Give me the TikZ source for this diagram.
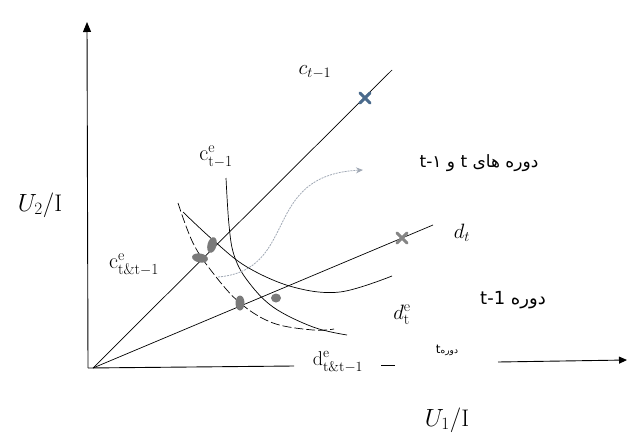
\documentclass[tikz,border=0pt]{standalone}
\usepackage{fontspec}
\usepackage{amsmath}
\usetikzlibrary{arrows.meta,shapes.geometric,calc}
\TeXXeTstate=1
\newfontfamily\arabicfont[Script=Arabic]{DejaVu Sans}
\definecolor{markblue}{HTML}{4A6A8C}
\definecolor{markgray}{HTML}{858585}
\definecolor{blobgray}{HTML}{7A7A7A}
\definecolor{arrowgray}{HTML}{A0A8B4}
\tikzset{
  axisline/.style={line width=0.9pt,black},
  rayline/.style={line width=0.7pt,black},
  curveline/.style={line width=0.7pt,black},
  dashcurve/.style={line width=0.7pt,black,dash pattern=on 9pt off 3pt},
  blob/.style={draw=none,fill=blobgray,ellipse,inner sep=0pt},
  lbl/.style={inner sep=0pt,font=\fontsize{22}{24}\selectfont},
  plbl/.style={inner sep=0pt,font=\fontsize{17}{19}\selectfont},
  crossmark/.style={line width=3pt,line cap=round}
}
\begin{document}
\begin{tikzpicture}[x=1pt,y=-1pt]
\useasboundingbox (0,0) rectangle (627,434);
% axes
\coordinate (O) at (88,368);
\coordinate (Ytop) at (87,22);
\coordinate (Xa) at (294,366);
\coordinate (Xb1) at (381,365);
\coordinate (Xb2) at (395,365);
\coordinate (Xc1) at (498,362);
\coordinate (Xc2) at (627,360);
\draw[axisline,-{Triangle[length=10pt,width=8pt]}] (O) -- (Ytop);
\draw[axisline] (O) -- (Xa);
\draw[axisline] (Xb1) -- (Xb2);
\draw[axisline,-{Triangle[length=8pt,width=7pt]}] (Xc1) -- (Xc2);
% rays
\coordinate (R0) at (93,368);
\coordinate (Cend) at (392,70);
\coordinate (Dend) at (433,225);
\coordinate (Cx) at (365,98);
\coordinate (Dx) at (402,238);
\draw[rayline] (R0) -- (Cend);
\draw[rayline] (R0) -- (Dend);
% curves
\draw[curveline] plot[smooth,tension=0.6] coordinates {(226,178) (229,225) (234,255) (247,280) (273,307) (313,327) (347,335)};
\draw[curveline] plot[smooth,tension=0.6] coordinates {(183,212) (213,240) (247,267) (293,287) (340,292) (392,276)};
\draw[dashcurve] plot[smooth,tension=0.6] coordinates {(178,203) (193,243) (213,273) (240,303) (273,323) (313,330) (334,329)};
% dotted arrow
\coordinate (Aa) at (218,277);
\coordinate (Ab) at (363,170);
\draw[arrowgray,line width=0.8pt,dash pattern=on 2pt off 1pt,-{Stealth[length=7pt,width=6pt]}]
  (Aa) .. controls (300,270) and (260,175) .. (Ab);
% blobs
\node[blob,minimum width=9pt,minimum height=16pt,rotate=-15] (e1) at (212,245) {};
\node[blob,minimum width=16pt,minimum height=9pt,rotate=-10] (e2) at (200,258) {};
\node[blob,minimum width=9pt,minimum height=15pt] (e3) at (240,303) {};
\node[blob,minimum width=10pt,minimum height=9pt] (e4) at (276,298) {};
% cross markers
\draw[crossmark,markblue] ($(Cx)+(-5,-5)$) -- ($(Cx)+(5,5)$);
\draw[crossmark,markblue] ($(Cx)+(-5,5)$) -- ($(Cx)+(5,-5)$);
\draw[crossmark,markgray] ($(Dx)+(-5,-5)$) -- ($(Dx)+(5,5)$);
\draw[crossmark,markgray] ($(Dx)+(-5,5)$) -- ($(Dx)+(5,-5)$);
% labels
\node[lbl] (lc) at (315,72) {$c_{t-1}$};
\node[lbl] (lce) at (216,157) {$\mathrm{c}^{\mathrm{e}}_{\mathrm{t-1}}$};
\node[lbl] (lcte) at (134,265) {$\mathrm{c}^{\mathrm{e}}_{\mathrm{t\&t-1}}$};
\node[lbl] (ld) at (462,233) {$d_t$};
\node[lbl] (lde) at (402,315) {$d^{\mathrm{e}}_{\mathrm{t}}$};
\node[lbl,font=\fontsize{20}{22}\selectfont] (ldte) at (338,362) {$\mathrm{d}^{\mathrm{e}}_{\mathrm{t\&t-1}}$};
\node[lbl,font=\fontsize{24}{26}\selectfont] (u2) at (40,205) {$U_2/\mathrm{I}$};
\node[lbl,font=\fontsize{24}{26}\selectfont] (u1) at (447,420) {$U_1/\mathrm{I}$};
\node[plbl] (p1) at (479,163) {\arabicfont\beginR دوره های \beginL t\endL{} و \beginL t-١\endL\endR};
\node[plbl,font=\fontsize{18}{20}\selectfont] (p2) at (513,300) {\arabicfont\beginR دوره \beginL t-1\endL\endR};
\node[plbl,font=\fontsize{9}{10}\selectfont] (p3) at (447,350) {\arabicfont\beginR دوره\beginL{\fontsize{12}{13}\selectfont t}\endL\endR};
\end{tikzpicture}
\end{document}
